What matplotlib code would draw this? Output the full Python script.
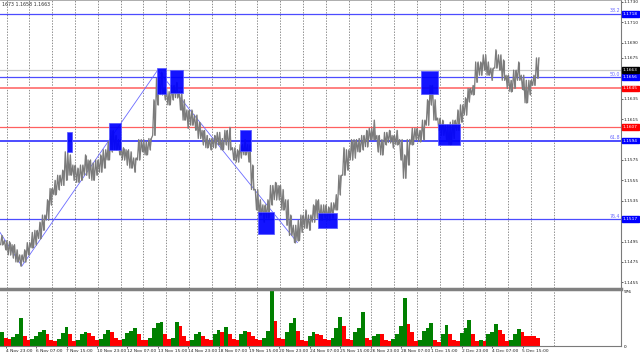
import matplotlib
matplotlib.use("Agg")
import matplotlib.pyplot as plt
from matplotlib.patches import Rectangle
import numpy as np

# ---------------- data ----------------
# price samples, one every 4 hourly bars
high = [1.1501, 1.1496, 1.1495, 1.1492, 1.1487, 1.1482, 1.1487, 1.1494, 1.1504, 1.1506,
        1.1514, 1.1521, 1.1536, 1.1547, 1.1555, 1.1560, 1.1565, 1.1583, 1.1580, 1.1570,
        1.1567, 1.1570, 1.1580, 1.1575, 1.1572, 1.1575, 1.1580, 1.1585, 1.1593, 1.1604,
        1.1599, 1.1595, 1.1587, 1.1585, 1.1583, 1.1577, 1.1595, 1.1595, 1.1593, 1.1596,
        1.1634, 1.1655, 1.1661, 1.1645, 1.1642, 1.1648, 1.1651, 1.1642, 1.1634, 1.1624,
        1.1624, 1.1619, 1.1612, 1.1604, 1.1599, 1.1596, 1.1599, 1.1602, 1.1596, 1.1604,
        1.1607, 1.1587, 1.1585, 1.1590, 1.1595, 1.1590, 1.1570, 1.1546, 1.1536, 1.1531,
        1.1536, 1.1550, 1.1553, 1.1550, 1.1546, 1.1536, 1.1521, 1.1511, 1.1516, 1.1521,
        1.1526, 1.1521, 1.1531, 1.1536, 1.1531, 1.1531, 1.1529, 1.1533, 1.1541, 1.1560,
        1.1587, 1.1585, 1.1595, 1.1595, 1.1596, 1.1599, 1.1604, 1.1606, 1.1614, 1.1599,
        1.1595, 1.1602, 1.1604, 1.1599, 1.1604, 1.1595, 1.1580, 1.1595, 1.1606, 1.1606,
        1.1604, 1.1614, 1.1634, 1.1648, 1.1634, 1.1616, 1.1614, 1.1609, 1.1612, 1.1614,
        1.1624, 1.1629, 1.1636, 1.1645, 1.1648, 1.1671, 1.1671, 1.1678, 1.1671, 1.1665,
        1.1683, 1.1678, 1.1673, 1.1658, 1.1653, 1.1663, 1.1671, 1.1658, 1.1653, 1.1653,
        1.1658, 1.1675]
low = [1.1492, 1.1487, 1.1482, 1.1479, 1.1475, 1.1471, 1.1475, 1.1482, 1.1489, 1.1492,
       1.1498, 1.1506, 1.1516, 1.1531, 1.1541, 1.1546, 1.1550, 1.1555, 1.1560, 1.1555,
       1.1553, 1.1555, 1.1560, 1.1557, 1.1555, 1.1560, 1.1563, 1.1567, 1.1575, 1.1583,
       1.1585, 1.1580, 1.1575, 1.1570, 1.1567, 1.1563, 1.1575, 1.1583, 1.1580, 1.1585,
       1.1599, 1.1629, 1.1639, 1.1634, 1.1629, 1.1634, 1.1636, 1.1624, 1.1614, 1.1606,
       1.1609, 1.1604, 1.1596, 1.1590, 1.1587, 1.1585, 1.1587, 1.1590, 1.1585, 1.1590,
       1.1585, 1.1575, 1.1573, 1.1577, 1.1580, 1.1573, 1.1546, 1.1526, 1.1521, 1.1514,
       1.1518, 1.1531, 1.1536, 1.1536, 1.1526, 1.1511, 1.1501, 1.1494, 1.1496, 1.1504,
       1.1508, 1.1506, 1.1514, 1.1518, 1.1516, 1.1518, 1.1516, 1.1518, 1.1526, 1.1541,
       1.1560, 1.1565, 1.1575, 1.1577, 1.1583, 1.1585, 1.1588, 1.1595, 1.1595, 1.1583,
       1.1580, 1.1590, 1.1592, 1.1587, 1.1590, 1.1575, 1.1557, 1.1570, 1.1590, 1.1595,
       1.1593, 1.1595, 1.1609, 1.1629, 1.1614, 1.1604, 1.1599, 1.1595, 1.1590, 1.1596,
       1.1604, 1.1612, 1.1619, 1.1632, 1.1639, 1.1651, 1.1658, 1.1663, 1.1658, 1.1653,
       1.1665, 1.1663, 1.1653, 1.1645, 1.1642, 1.1645, 1.1653, 1.1644, 1.1631, 1.1639,
       1.1648, 1.1655]
volume = [250, 145, 125, 160, 215, 500, 180, 110, 125, 180,
          250, 285, 215, 110, 90, 125, 235, 340, 215, 90,
          110, 215, 250, 235, 180, 110, 125, 215, 285, 250,
          145, 110, 125, 235, 270, 325, 215, 110, 105, 145,
          325, 415, 430, 215, 125, 145, 430, 360, 180, 90,
          110, 215, 250, 180, 125, 110, 215, 285, 250, 340,
          215, 125, 110, 215, 270, 250, 180, 125, 110, 145,
          270, 976, 450, 145, 125, 250, 415, 500, 270, 110,
          90, 180, 250, 215, 200, 125, 110, 145, 325, 525,
          360, 125, 110, 250, 325, 610, 145, 110, 180, 215,
          215, 110, 90, 125, 215, 360, 855, 395, 250, 90,
          110, 270, 325, 415, 110, 70, 215, 375, 215, 110,
          90, 235, 325, 465, 215, 90, 110, 90, 215, 250,
          395, 285, 215, 90, 110, 215, 305, 250, 180, 180,
          180, 145]

zigzag_bar = [0, 23, 166, 313]
zigzag_price = [1.1504, 1.1471, 1.1663, 1.1494]

box_bar_start = [70.5, 114.7, 165.0, 179.0, 253.0, 272.0, 335.0, 443.0, 461.0]
box_bar_end = [75.8, 127.4, 175.0, 193.0, 264.0, 288.0, 355.0, 461.0, 484.0]
box_top = [1.1602, 1.1611, 1.1665, 1.1663, 1.1604, 1.1524, 1.1523, 1.1662, 1.1610]
box_bottom = [1.1583, 1.1585, 1.1640, 1.1641, 1.1584, 1.1502, 1.1508, 1.1640, 1.1590]

fibo_levels = [1.1718, 1.1656, 1.1594, 1.1517]
fibo_names = ["38.2", "50.0", "61.8", "76.4"]
red_levels = [1.1645, 1.1607]
current_price = 1.1663

price_ticks = [1.1730, 1.1710, 1.1690, 1.1675, 1.1635, 1.1615, 1.1575,
               1.1555, 1.1535, 1.1495, 1.1475, 1.1455]
date_labels = ["4 Nov 23:00", "6 Nov 07:00", "7 Nov 15:00", "10 Nov 23:00",
               "12 Nov 07:00", "13 Nov 15:00", "14 Nov 23:00", "18 Nov 07:00",
               "19 Nov 15:00", "20 Nov 23:00", "24 Nov 07:00", "25 Nov 15:00",
               "26 Nov 23:00", "28 Nov 07:00", "1 Dec 15:00", "2 Dec 23:00",
               "4 Dec 07:00", "5 Dec 15:00"]
header_text = "1673 1.1658 1.1663"
vol_max_label = 976

# ---------------- layout ----------------
W, H = 640, 356
fig = plt.figure(figsize=(W / 100, H / 100), dpi=100)
fig.patch.set_facecolor("white")
ax = fig.add_axes([0, 1 - 288 / H, 621 / W, 288 / H])
vax = fig.add_axes([0, 1 - 346 / H, 621 / W, 57 / H])

BAR_PX = 0.95
xmax = 621 / BAR_PX
for a in (ax, vax):
    a.set_xlim(0, xmax)
    a.set_facecolor("white")
ax.set_ylim(1.14495, 1.17317)
vax.set_ylim(0, 1020)

# grid
grid_bars = [7 + 24 * k for k in range(25)]
for a in (ax, vax):
    for g in grid_bars:
        a.axvline(g, color="#606060", lw=0.5, ls=(0, (2, 2)), zorder=0)

sample_bar = np.arange(len(high)) * 4 + 2
high = np.array(high)
low = np.array(low)

# horizontal levels
ax.axhline(current_price, color="#c8c8c8", lw=0.9, zorder=1)
ax.axhline(red_levels[0], color="#ff8080", lw=1.4, zorder=1)
ax.axhline(red_levels[1], color="#ff6060", lw=0.9, zorder=1)
for lv, nm in zip(fibo_levels, fibo_names):
    lw = 1.4 if nm == "61.8" else 0.9
    ax.axhline(lv, color="#4c4cff", lw=lw, zorder=2)
    ax.text(xmax - 1, lv + 0.00005, nm, color="#6a6aff", fontsize=3.4,
            ha="right", va="bottom", zorder=5)

# zigzag
ax.plot(zigzag_bar, zigzag_price, color="#6a6aff", lw=0.6, zorder=2)

# price: jagged path through each sample's high and low
px_path, py_path = [], []
for i, (b, h, l) in enumerate(zip(sample_bar, high, low)):
    if i % 2 == 0:
        px_path += [b - 1.3, b, b + 1.3]
        py_path += [l, h, l]
    else:
        px_path += [b - 1.3, b, b + 1.3]
        py_path += [h, l, h]
ax.plot(px_path, py_path, color="#7a7a7a", lw=0.9, zorder=3)
ax.vlines(sample_bar, low, high, color="#808080", lw=0.8, zorder=3)

# boxes
for x0, x1, t, b in zip(box_bar_start, box_bar_end, box_top, box_bottom):
    ax.add_patch(Rectangle((x0, b), x1 - x0, t - b, facecolor="#0000ff",
                           edgecolor="#5a5aff", lw=0.6, alpha=0.92, zorder=4))

# volume
vol = np.array(volume)
up = np.concatenate([[True], vol[1:] > vol[:-1]])
colors = np.where(up, "#008000", "#ff0000")
vax.bar(sample_bar, vol, width=3.8, color=colors, lw=0, zorder=2)

# spines
for a in (ax, vax):
    a.spines["left"].set_visible(False)
    a.spines["right"].set_color("#7a7a7a")
    a.spines["right"].set_linewidth(0.8)
ax.spines["top"].set_color("#a0a0a0")
ax.spines["top"].set_linewidth(0.6)
ax.spines["bottom"].set_visible(False)
vax.spines["top"].set_color("#808080")
vax.spines["top"].set_linewidth(2.5)
vax.spines["bottom"].set_color("#7a7a7a")
vax.spines["bottom"].set_linewidth(0.8)

# price axis
ax.yaxis.tick_right()
ax.set_yticks(price_ticks)
ax.set_yticklabels([f"{v:.4f}" for v in price_ticks], fontsize=3.1)
ax.tick_params(axis="y", length=1.2, width=0.5, pad=0.6, colors="#202020")
ax.tick_params(axis="x", bottom=False, labelbottom=False)

# volume axis
vax.yaxis.tick_right()
vax.set_yticks([0, vol_max_label])
vax.set_yticklabels(["0", str(vol_max_label)], fontsize=3.1)
vax.tick_params(axis="y", length=0, pad=2)
vax.set_xticks([6 + 32 * k for k in range(len(date_labels))])
vax.set_xticklabels(date_labels, fontsize=3.2, ha="left")
vax.tick_params(axis="x", length=1.5, width=0.5, pad=1.0, colors="#202020")

# right-edge value boxes
def tag(level, bg):
    ax.annotate(f"{level:.4f}", xy=(1, level), xycoords=("axes fraction", "data"),
                xytext=(1.3, 0), textcoords="offset points", ha="left", va="center",
                fontsize=3.1, color="white", annotation_clip=False, zorder=10,
                bbox=dict(boxstyle="square,pad=0.2", fc=bg, ec=bg))

for lv in fibo_levels:
    tag(lv, "#0000ff")
tag(current_price, "#000000")
for lv in red_levels:
    tag(lv, "#ff0000")

ax.text(0.003, 0.992, header_text, transform=ax.transAxes, fontsize=3.4,
        va="top", ha="left", color="#303030")

fig.savefig("out.png", dpi=100)
